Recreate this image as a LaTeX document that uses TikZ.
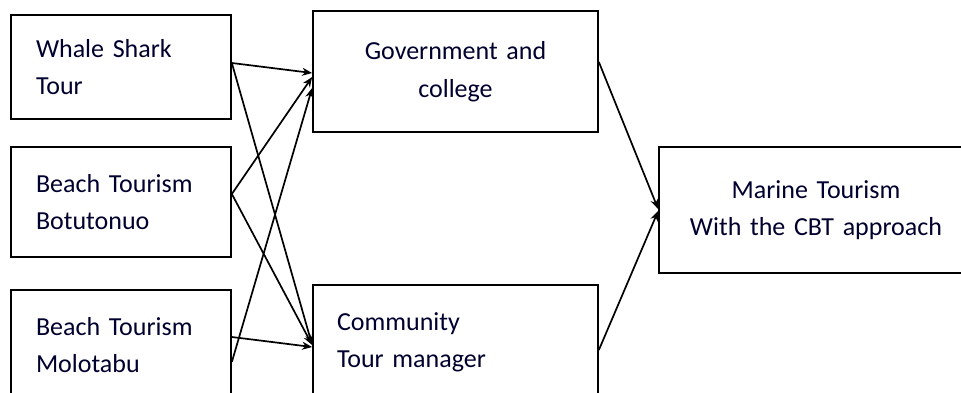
\documentclass[tikz,border=0pt]{standalone}
\usepackage{fontspec}
\setmainfont{Carlito}
\usetikzlibrary{arrows.meta}
\newcommand{\clrtxt}{blue!18!black}

\begin{document}
\begin{tikzpicture}[x=1pt,y=1pt,
        box/.style={draw, line width=1.7pt, inner ysep=0pt, font=\fontsize{26}{37.5}\selectfont, text=\clrtxt},
        leftbox/.style={box, align=left, inner xsep=25pt},
        midbox/.style={box, align=center, inner xsep=15pt},
        arr/.style={line width=1.7pt, -{Stealth[length=10pt,width=8pt]}}]

        \clip (0,0) rectangle (961,392);

        \node[leftbox, text width=170pt, minimum height=104pt] (whale) at (121,325) {Whale Shark\\Tour};
        \node[leftbox, text width=170pt, minimum height=110pt] (boto) at (121,190) {Beach Tourism\\Botutonuo};
        \node[leftbox, text width=170pt, minimum height=110pt] (molo) at (121,47) {Beach Tourism\\Molotabu};

        \node[midbox, text width=255pt, minimum height=121pt] (gov) at (455.5,320.5) {Government and\\college};
        \node[leftbox, inner xsep=24pt, text width=237pt, minimum height=115pt] (comm) at (455.5,49.5) {Community\\Tour manager};

        \node[midbox, text width=284pt, minimum height=126pt] (marine) at (816,182) {Marine Tourism\\With the CBT approach};

        \foreach \v/\a/\w/\b in {whale/4/gov/-1.5, whale/4/comm/-2.5, boto/8/gov/-5.5, boto/8/comm/-2.5, molo/-17/gov/-16.5, molo/8/comm/-4.5}
        {
            \draw[arr] ([yshift=\a pt]\v.east) -- ([yshift=\b pt]\w.west);
        }

        \foreach \v/\a/\b in {gov/9.5/1, comm/-7.5/-1}
        {
            \draw[arr] ([yshift=\a pt]\v.east) -- ([yshift=\b pt]marine.west);
        }

    \end{tikzpicture}
\end{document}
